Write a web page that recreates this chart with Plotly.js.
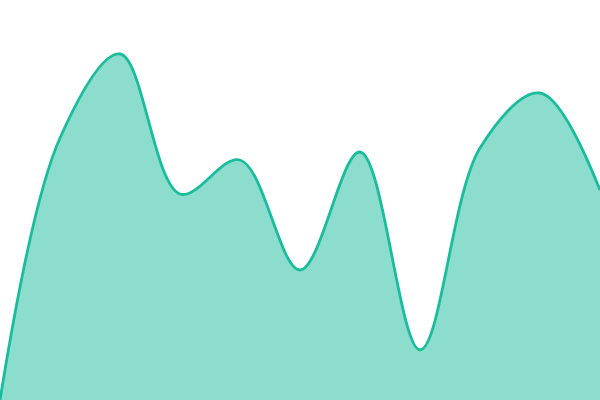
<!DOCTYPE html>
<html>
<head>
<meta charset="utf-8">
<script src="https://cdn.plot.ly/plotly-3.0.1.min.js"></script>
<style>
  html, body { margin: 0; padding: 0; background: #fff; }
  #plot { width: 600px; height: 400px; }
</style>
</head>
<body>
<div id="plot"></div>
<script>
// Data points (evenly spaced x)
let xs = [0, 1, 2, 3, 4, 5, 6, 7, 8, 9, 10]
let values = [0, 262, 346, 206, 240, 130, 248, 50, 252, 307, 210]

let trace = {
  x: xs,
  y: values,
  type: "scatter",
  mode: "lines",
  fill: "tozeroy",
  fillcolor: "rgba(26,188,156,0.5)",
  line: { color: "#1abc9c", width: 2.8, shape: "spline", smoothing: 1 },
  hoverinfo: "none",
};

let layout = {
  width: 600,
  height: 400,
  margin: { l: 0, r: 0, t: 0, b: 0 },
  paper_bgcolor: "#fff",
  plot_bgcolor: "#fff",
  showlegend: false,
  xaxis: { range: [0, 10], visible: false, fixedrange: true },
  yaxis: { range: [0, 400], visible: false, fixedrange: true },
};

Plotly.newPlot("plot", [trace], layout, { displayModeBar: false, staticPlot: true });
</script>
</body>
</html>
